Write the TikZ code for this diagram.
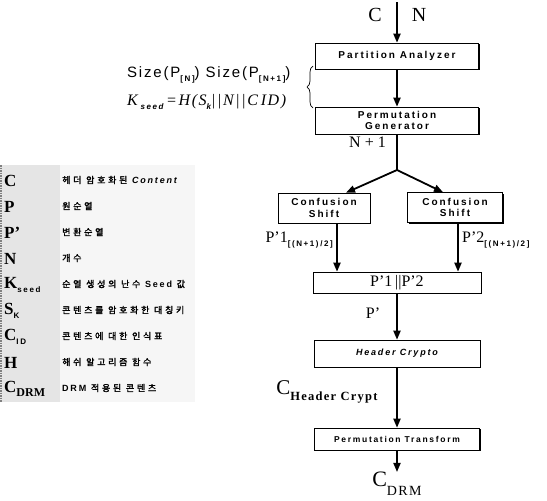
\documentclass[tikz,border=0pt]{standalone}
\usepackage{fontspec}
\setmainfont{Liberation Serif}
\newfontfamily\boxfont[LetterSpace=20]{Liberation Sans}
\newfontfamily\eqfont[LetterSpace=12]{Liberation Sans}
\newfontfamily\labfont[LetterSpace=10]{Liberation Serif}
\newfontfamily\kor[FakeBold=2,LetterSpace=30]{Noto Sans CJK KR}
\usetikzlibrary{arrows.meta,shadows,decorations.pathreplacing}

\newcommand{\lowtext}[1]{\raisebox{-0.45ex}{\fontsize{8}{8}\selectfont\boxfont\bfseries #1}}

\tikzset{
  stage/.style={draw, line width=0.6pt, fill=white, align=center, inner sep=0pt,
    font=\fontsize{10}{11.5}\selectfont\boxfont\bfseries,
    drop shadow={shadow xshift=1.3pt, shadow yshift=-1.3pt, fill=black, opacity=1}},
  flow/.style={line width=1.8pt, -{Triangle[length=9pt,width=7pt]}},
  lbl/.style={font=\fontsize{16}{16}\selectfont, inner sep=1pt},
  legsym/.style={anchor=west, inner sep=0pt, font=\fontsize{17}{17}\selectfont\bfseries},
  legtext/.style={anchor=west, inner sep=0pt, font=\fontsize{9}{9}\selectfont\kor},
}

\begin{document}
\begin{tikzpicture}[x=1pt,y=-1pt]
%\draw[help lines] (0,0) grid[step=20] (547,501);
\useasboundingbox (0,0) rectangle (547,501);

% legend
\fill[gray!7] (0,165) rectangle (195,402);
\fill[gray!20] (0,165) rectangle (60,402);
\draw[gray, densely dotted, line width=1.5pt] (1,165) -- (1,402);
\foreach \sym/\desc [count=\i] in {
  C/{헤더 암호화된 {\boxfont\bfseries\itshape Content}},
  P/원순열,
  P’/변환순열,
  N/개수,
  K\lowtext{seed}/{순열 생성의 난수 {\boxfont\bfseries Seed} 값},
  S\lowtext{K}/콘텐츠를 암호화한 대칭키,
  C\lowtext{ID}/콘텐츠에 대한 인식표,
  H/해쉬 알고리즘 함수,
  C\raisebox{-0.5ex}{\fontsize{12}{12}\selectfont DRM}/{{\boxfont\bfseries DRM} 적용된 콘텐츠}}
{
  \node[legsym] (sym\i) at (4,{181+26*(\i-1)}) {\sym};
  \node[legtext] (desc\i) at (62,{180+26*(\i-1)}) {\desc};
}

% formula block
\node[anchor=west, inner sep=0pt, font=\fontsize{15}{15}\selectfont\eqfont] (sizes) at (127,75)
  {Size(P\lowtext{[N]}) Size(P\lowtext{[N+1]})};
\node[anchor=west, inner sep=0pt, font=\fontsize{16}{16}\selectfont\labfont\itshape] (kseed) at (127,102)
  {K\,\lowtext{seed}\,=H(S\lowtext{k}||N||C\,ID)};
\draw[decorate, decoration={brace, amplitude=6pt}, line width=0.7pt] (313,108) -- (313,66);

% flow
\node[font=\fontsize{20}{20}\selectfont] (cin) at (375,15) {C};
\node[font=\fontsize{20}{20}\selectfont] (nin) at (419,15) {N};
\coordinate (top) at (397,2);

\node[stage, minimum width=163pt, minimum height=26pt] (pa) at (397,56) {Partition Analyzer};
\node[stage, minimum width=163pt, minimum height=27pt] (pg) at (397,120.5) {Permutation\\Generator};
\node[lbl, anchor=east] (np) at (387,142) {N + 1};
\coordinate (split) at (397,170);

\node[stage, minimum width=92pt, minimum height=30pt] (csl) at (324,208) {Confusion\\Shift};
\node[stage, minimum width=95pt, minimum height=30pt] (csr) at (455,207.5) {Confusion\\Shift};
\node[lbl, anchor=east] (pone) at (334,240) {P’1\lowtext{[(N+1)/2]}};
\node[lbl, anchor=west] (ptwo) at (461,240) {P’2\lowtext{[(N+1)/2]}};

\node[stage, minimum width=168pt, minimum height=21pt, font=\fontsize{16}{16}\selectfont] (cat) at (397,282.5) {P’1\,||P’2};
\node[lbl] (pp) at (373,313) {P’};
\node[stage, minimum width=166pt, minimum height=27pt, font=\fontsize{9}{11}\selectfont\boxfont\bfseries\itshape] (hc) at (397,353.5) {Header Crypto};
\node[lbl, font=\fontsize{21}{21}\selectfont] (chc) at (327,392) {C\raisebox{-0.6ex}{\fontsize{12.5}{12.5}\selectfont\labfont\bfseries Header Crypt}};
\node[stage, minimum width=165pt, minimum height=22pt, font=\fontsize{8.5}{10}\selectfont\boxfont\bfseries] (ptf) at (397,439) {Permutation Transform};
\node[font=\fontsize{22}{22}\selectfont, inner sep=0pt] (cdrm) at (397,484) {C\raisebox{-0.9ex}{\fontsize{14}{14}\selectfont\labfont DRM}};

\draw[flow] (top) -- (pa);
\draw[flow] (pa) -- (pg);
\draw[line width=1.8pt] (pg) -- (split);
\draw[flow] (split) -- ([xshift=22pt]csl.north);
\draw[flow] (split) -- ([xshift=-12pt]csr.north);
\draw[flow] ([xshift=13pt]csl.south) -- ([xshift=13pt]csl.south |- cat.north);
\draw[flow] ([xshift=3pt]csr.south) -- ([xshift=3pt]csr.south |- cat.north);
\draw[flow] (cat) -- (hc);
\draw[flow] (hc) -- (ptf);
\draw[flow] (ptf) -- (cdrm);

\end{tikzpicture}
\end{document}
